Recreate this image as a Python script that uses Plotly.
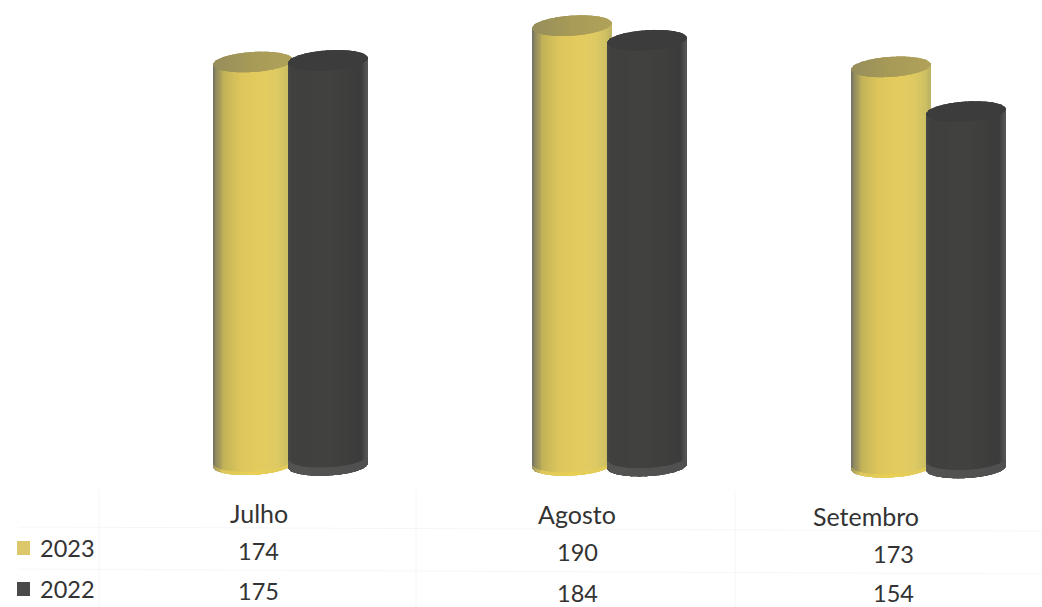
import numpy as np
import plotly.graph_objects as go

# Table data
months = ["Julho", "Agosto", "Setembro"]
series_names = ["2023", "2022"]
values_2023 = [174, 190, 173]
values_2022 = [175, 184, 154]

# Page geometry
W, H = 1042, 607
PX_PER_UNIT = 2.315
SLOT_PX = 319.0
FIRST_SLOT_PX = 290.5
ZERO_PX = 465.5

# The whole drawing leans slightly downward to the right
lean = [0.3, 0.0, -0.8]


def colour_ramp(stops, n):
    pos = [s[0] for s in stops]
    chans = np.array([s[1] for s in stops], dtype=float)
    t = np.linspace(0, 1, n)
    rgb = np.column_stack([np.interp(t, pos, chans[:, i]) for i in range(3)])
    return [f"rgb({int(r)},{int(g)},{int(b)})" for r, g, b in rgb]


YELLOW_BODY = [(0, (118, 116, 100)), (0.04, (145, 138, 95)), (0.14, (196, 180, 88)),
               (0.35, (222, 198, 92)), (0.6, (230, 204, 94)), (0.82, (222, 202, 100)),
               (0.96, (204, 190, 98)), (1, (190, 180, 100))]
YELLOW_CAP = [(0, (150, 142, 92)), (0.5, (168, 155, 88)), (1, (176, 162, 90))]
YELLOW_RIM = [(0, (160, 150, 96)), (0.12, (222, 200, 90)), (0.5, (234, 208, 84)),
              (1, (224, 204, 92))]
DARK_BODY = [(0, (70, 70, 68)), (0.06, (64, 64, 62)), (0.5, (66, 66, 64)),
             (0.94, (60, 60, 60)), (1, (84, 84, 84))]
DARK_CAP = [(0, (60, 60, 60)), (1, (60, 60, 60))]
DARK_RIM = [(0, (84, 84, 82)), (0.5, (82, 82, 80)), (1, (80, 80, 80))]

N = 90
WIDTH = 79 / SLOT_PX
OFFSET = 37.5 / SLOT_PX
RY = 10 / PX_PER_UNIT
TILT_TOP = 2.5 / PX_PER_UNIT
TILT_BOTTOM = 2.0 / PX_PER_UNIT

t = np.linspace(-1, 1, N + 1)
t = (t[:-1] + t[1:]) / 2
arc = np.sqrt(1 - t ** 2)


def strips(fig, cx, low, high, colours):
    x = cx + t * WIDTH / 2
    fig.add_bar(x=x, base=low, y=high - low, width=WIDTH / N * 1.5,
                marker=dict(color=colours, line=dict(width=0)),
                hoverinfo="skip", showlegend=False)


def cylinder(fig, slot, value, shift, body, cap, rim, rim_px):
    cx = slot + (OFFSET if shift else -OFFSET)
    base = lean[slot] - (0.3 if shift else 0)
    foot = base + TILT_BOTTOM * t - RY * arc
    top = base + value + TILT_TOP * t
    strips(fig, cx, foot, top, colour_ramp(body, N))
    strips(fig, cx, foot, foot + rim_px / PX_PER_UNIT, colour_ramp(rim, N))
    strips(fig, cx, top - RY * arc, top + RY * arc, colour_ramp(cap, N))


fig = go.Figure()
for i in range(len(months)):
    cylinder(fig, i, values_2023[i], False, YELLOW_BODY, YELLOW_CAP, YELLOW_RIM, 3)
    cylinder(fig, i, values_2022[i], True, DARK_BODY, DARK_CAP, DARK_RIM, 8)


def py(px):
    return 1 - px / H


TEXT = "#333333"
rows = [
    (months, [258.5, 577, 866], [513, 514, 516], 25),
    (values_2023, [258.5, 577, 893], [551, 552, 554], 23.5),
    (values_2022, [258.5, 577, 893], [591, 592.5, 592.5], 23.5),
]
for labels, xs, ys, size in rows:
    for label, xp, yp in zip(labels, xs, ys):
        fig.add_annotation(x=(xp - FIRST_SLOT_PX) / SLOT_PX, xref="x", y=py(yp), yref="paper",
                           text=str(label), showarrow=False,
                           font=dict(family="Lato, sans-serif", size=size, color=TEXT),
                           xanchor="center", yanchor="middle")

# Legend keys and faint table rules
keys = [("#dcc76a", 548, series_names[0]), ("#4a4a4a", 589, series_names[1])]
shapes = []
for colour, yc, name in keys:
    shapes.append(dict(type="rect", xref="paper", yref="paper", x0=17 / W, x1=30 / W,
                       y0=py(yc + 7), y1=py(yc - 7), fillcolor=colour, line=dict(width=0)))
    fig.add_annotation(x=38 / W, xref="paper", y=py(yc), yref="paper", text=name,
                       showarrow=False,
                       font=dict(family="Lato, sans-serif", size=23.5, color=TEXT),
                       xanchor="left", yanchor="middle")

RULE = "#f6f6f6"
for y0, y1 in [(527, 531), (569, 574)]:
    shapes.append(dict(type="line", xref="paper", yref="paper", x0=18 / W, x1=1, y0=py(y0), y1=py(y1),
                       line=dict(color=RULE, width=1)))
for x in (99, 416, 735):
    shapes.append(dict(type="line", xref="paper", yref="paper", x0=x / W, x1=x / W, y0=py(490), y1=0,
                       line=dict(color=RULE, width=1)))

fig.update_layout(
    width=W, height=H,
    margin=dict(l=0, r=0, t=0, b=0),
    barmode="overlay",
    paper_bgcolor="white", plot_bgcolor="white",
    shapes=shapes,
    xaxis=dict(range=[-FIRST_SLOT_PX / SLOT_PX, (W - FIRST_SLOT_PX) / SLOT_PX],
               visible=False, fixedrange=True),
    yaxis=dict(range=[(ZERO_PX - H) / PX_PER_UNIT, ZERO_PX / PX_PER_UNIT],
               visible=False, fixedrange=True),
    showlegend=False,
)
fig.write_html("out.html", config=dict(displayModeBar=False))
